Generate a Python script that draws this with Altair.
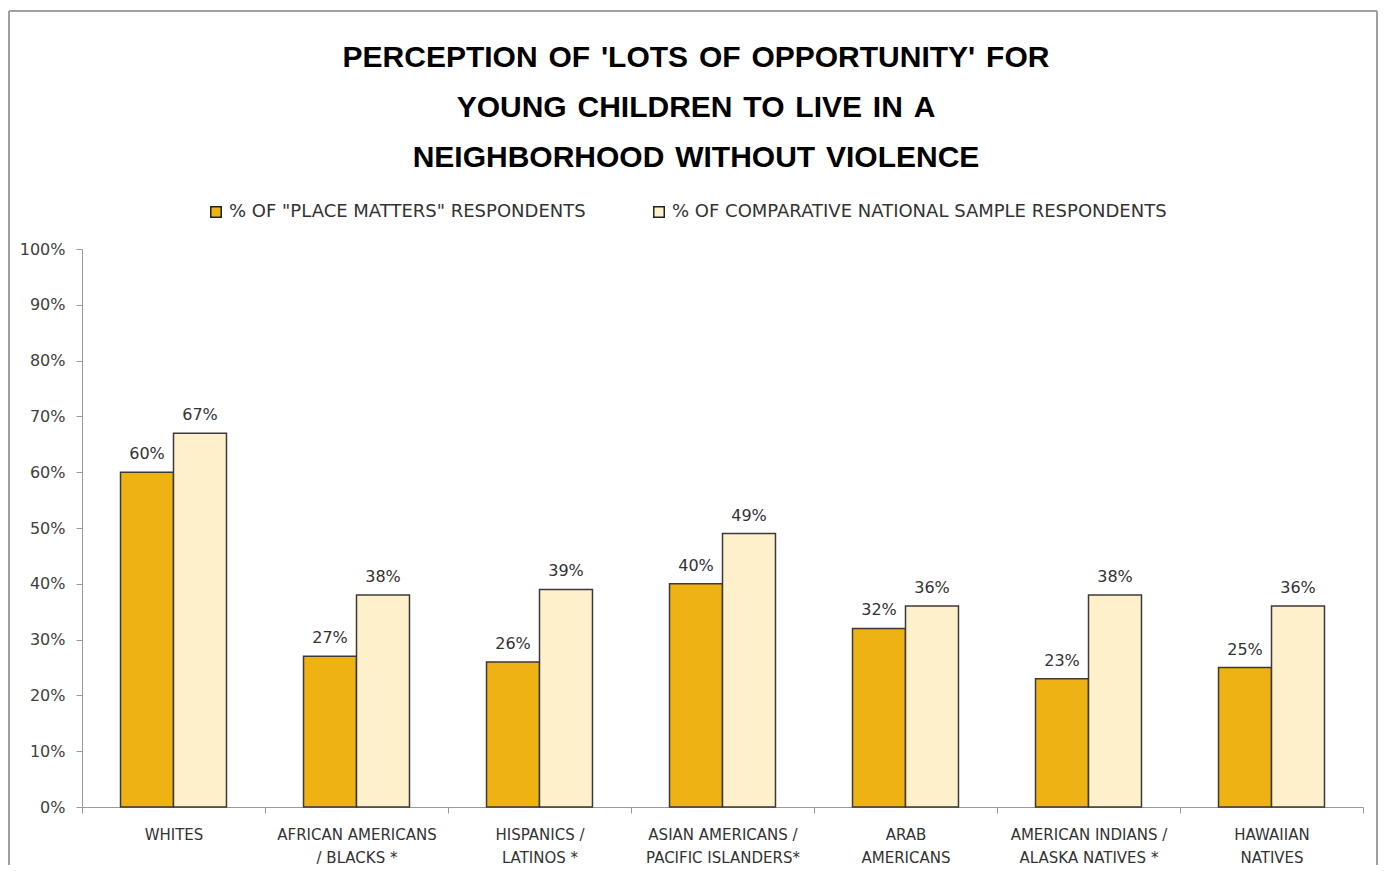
import altair as alt
import pandas as pd

groups = ["WHITES", "AFRICAN AMERICANS|/ BLACKS *", "HISPANICS /|LATINOS *",
          "ASIAN AMERICANS /|PACIFIC ISLANDERS*", "ARAB|AMERICANS",
          "AMERICAN INDIANS /|ALASKA NATIVES *", "HAWAIIAN|NATIVES"]
series = ['% OF "PLACE MATTERS" RESPONDENTS', '% OF COMPARATIVE NATIONAL SAMPLE RESPONDENTS']
place_matters = [60, 27, 26, 40, 32, 23, 25]
national = [67, 38, 39, 49, 36, 38, 36]
colors = ["#EEB214", "#FFF0CC"]
G = " \u200a"
title_lines = [f"PERCEPTION{G}OF{G}'LOTS{G}OF{G}OPPORTUNITY'{G}FOR",
               f"YOUNG{G}CHILDREN{G}TO{G}LIVE{G}IN{G}A",
               f"NEIGHBORHOOD{G}WITHOUT{G}VIOLENCE"]

rows = []
for g, a, b in zip(groups, place_matters, national):
    rows.append({"group": g, "series": series[0], "value": a / 100})
    rows.append({"group": g, "series": series[1], "value": b / 100})
df = pd.DataFrame(rows)

FONT = "DejaVu Sans"

x_enc = alt.X("group:N", sort=groups, title=None,
              scale=alt.Scale(paddingInner=0, paddingOuter=0),
              axis=alt.Axis(labelExpr="split(datum.label, '|')", labelAngle=0,
                            tickBand="extent", labelPadding=14, labelFontSize=15,
                            labelFont=FONT, labelColor="#333333", labelLineHeight=23,
                            domainColor="#999999", tickColor="#999999", tickSize=6,
                            labelBaseline="top"))
xoff_enc = alt.XOffset("series:N", sort=series,
                       scale=alt.Scale(paddingInner=0, paddingOuter=0.727))
y_enc = alt.Y("value:Q", title=None,
              scale=alt.Scale(domain=[0, 1]),
              axis=alt.Axis(format=".0%", values=[i / 10 for i in range(11)],
                            grid=False, labelFontSize=16, labelFont=FONT,
                            labelColor="#404040", domainColor="#999999",
                            tickColor="#999999", tickSize=6, labelPadding=11))

base = alt.Chart(df).encode(x=x_enc, xOffset=xoff_enc, y=y_enc)

bars = base.mark_bar(stroke="#3a3a3a", strokeWidth=1.5).encode(
    color=alt.Color("series:N", sort=series, title=None,
                    scale=alt.Scale(domain=series, range=colors),
                    legend=alt.Legend(orient="none", direction="horizontal",
                                      legendX=125, legendY=-46,
                                      labelFont=FONT, labelFontSize=18,
                                      labelColor="#333333", symbolType="square",
                                      symbolSize=110, symbolStrokeColor="#222222",
                                      symbolStrokeWidth=1.5, columnPadding=64,
                                      labelOffset=4, labelLimit=700))
)

labels = base.mark_text(dy=-18, fontSize=16, font=FONT, color="#333333").encode(
    text=alt.Text("value:Q", format=".0%")
)

one = pd.DataFrame({"f": [0]})
FRAME = dict(color="#a0a0a0", strokeWidth=2)
frame_top = alt.Chart(one).mark_rule(**FRAME).encode(
    x=alt.value(-73), x2=alt.value(1295), y=alt.value(-238))
frame_left = alt.Chart(one).mark_rule(**FRAME).encode(
    x=alt.value(-73), y=alt.value(-238), y2=alt.value(616))
frame_right = alt.Chart(one).mark_rule(**FRAME).encode(
    x=alt.value(1295), y=alt.value(-238), y2=alt.value(616))

title = alt.Chart(one).mark_text(
    font="Liberation Sans", fontSize=30, fontWeight="bold", color="#000000",
    lineHeight=50, baseline="middle", align="center"
).encode(x=alt.value(614), y=alt.value(-191), text=alt.value(title_lines))

chart = alt.layer(frame_top, frame_left, frame_right, title, bars, labels).properties(
    width=1281, height=558,
    padding={"left": 0, "top": 2, "right": 0, "bottom": 0},
    background="white",
).configure_view(stroke=None)

chart.save("out.html", embed_options={"renderer": "svg", "actions": False})
